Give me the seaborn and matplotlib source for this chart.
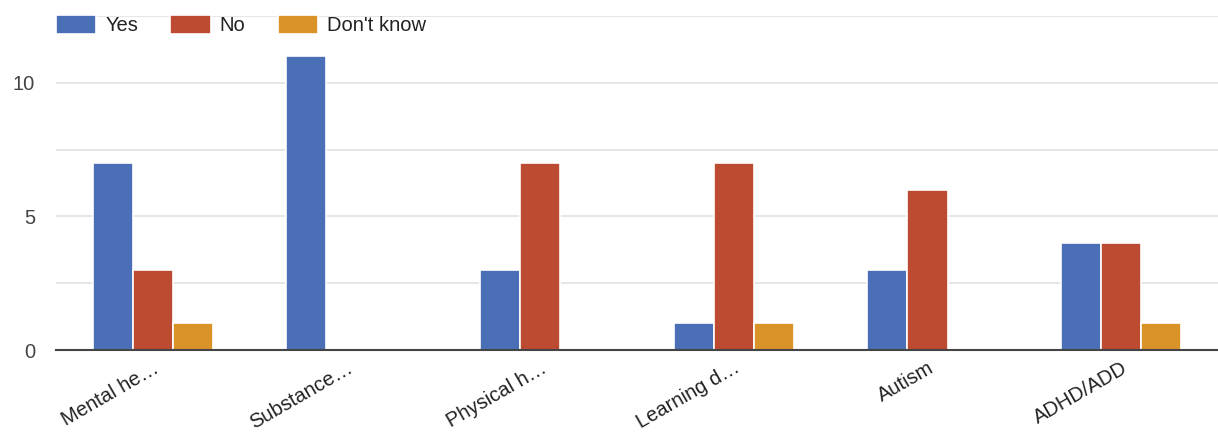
import matplotlib
matplotlib.use("Agg")
import matplotlib.pyplot as plt
from matplotlib.ticker import MultipleLocator
import pandas as pd
import seaborn as sns

categories = ["Mental he…", "Substance…", "Physical h…", "Learning d…", "Autism", "ADHD/ADD"]
yes_counts = [7, 11, 3, 1, 3, 4]
no_counts = [3, 0, 7, 7, 6, 4]
dont_know_counts = [1, 0, 0, 1, 0, 1]
answers = ["Yes", "No", "Don't know"]
colors = ["#4a6fb6", "#bc4b31", "#da9328"]

rows = []
for answer, values in zip(answers, [yes_counts, no_counts, dont_know_counts]):
    for cat, v in zip(categories, values):
        rows.append({"category": cat, "answer": answer, "count": v})
df = pd.DataFrame(rows)

sns.set_style("white")
plt.rcParams["font.family"] = ["Liberation Sans", "DejaVu Sans"]

fig = plt.figure(figsize=(12.18, 4.34), dpi=100)
ax = fig.add_axes([56 / 1218, 84 / 434, 1162 / 1218, 334 / 434])

sns.barplot(data=df, x="category", y="count", hue="answer", hue_order=answers,
            order=categories, palette=colors, width=0.62, edgecolor="white",
            linewidth=1.2, saturation=1, ax=ax, legend=True)

ax.set_ylim(0, 12.5)
ax.set_xlim(-0.5, len(categories) - 0.5)
ax.yaxis.set_major_locator(MultipleLocator(5))
ax.yaxis.set_minor_locator(MultipleLocator(2.5))
ax.grid(axis="y", which="both", color="#e4e4e4", linewidth=1.3)
ax.set_axisbelow(True)
for side in ["top", "left", "right"]:
    ax.spines[side].set_visible(False)
ax.spines["bottom"].set_color("#444444")
ax.spines["bottom"].set_linewidth(1.5)
ax.spines["bottom"].set_zorder(5)

ax.set_xlabel("")
ax.set_ylabel("")
ax.tick_params(axis="both", which="both", length=0)
ax.tick_params(axis="y", labelsize=14.5, labelcolor="#444444", pad=15)
ax.tick_params(axis="x", labelsize=14.5, labelcolor="#222222", pad=6)
for lbl in ax.get_xticklabels():
    lbl.set_rotation(30)
    lbl.set_ha("right")
    lbl.set_rotation_mode("anchor")

leg = ax.legend(loc="center left", bbox_to_anchor=(0, 1 - 9 / 334), ncol=3,
                frameon=False, fontsize=14.5, handlelength=2.0, handleheight=1.05,
                handletextpad=0.45, columnspacing=1.6, borderaxespad=0, borderpad=0)
for t in leg.get_texts():
    t.set_color("#222222")

fig.savefig("out.png", dpi=100, facecolor="white")
